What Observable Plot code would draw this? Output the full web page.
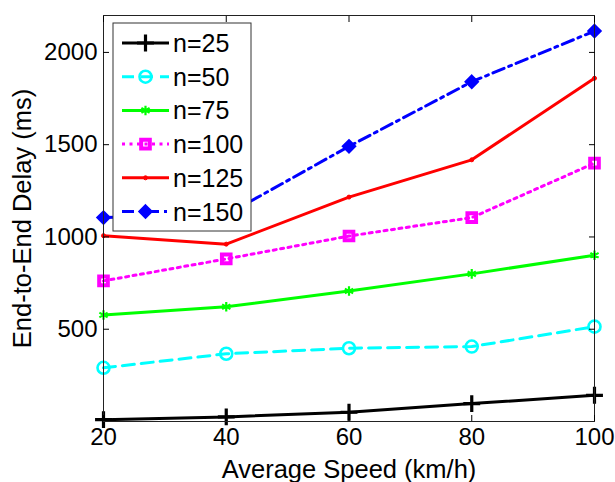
<!DOCTYPE html>
<html><head><meta charset="utf-8">
<script src="https://cdn.jsdelivr.net/npm/d3@7"></script>
<script src="https://cdn.jsdelivr.net/npm/@observablehq/plot@0.6"></script>
<style>
body{margin:0;background:#fff}
svg{font-family:Arial,"Liberation Sans",Helvetica,sans-serif}
</style>
</head><body><div id="chart"></div>
<script>
// ---- data ----
const speeds = [20, 40, 60, 80, 100];
const seriesNames = ["n=25", "n=50", "n=75", "n=100", "n=125", "n=150"];
const n25  = [10, 25, 50, 97, 142];
const n50  = [291, 367, 397, 406, 514];
const n75  = [577, 622, 707, 800, 901];
const n100 = [762, 881, 1005, 1105, 1400];
const n125 = [1007, 961, 1216, 1418, 1860];
const n150 = [1105, 1120, 1491, 1841, 2116];
const xTicks = [20, 40, 60, 80, 100];
const yTicks = [500, 1000, 1500, 2000];
const xLabel = "Average Speed (km/h)";
const yLabel = "End-to-End Delay (ms)";

const values = [n25, n50, n75, n100, n125, n150];
const styles = [
  {color: "#000000", dash: null,          symbol: "plus",     r: 5.5, sw: 3.2, fill: "none"},
  {color: "#00ffff", dash: "12,7",        symbol: "circle",   r: 6,   sw: 2.6, fill: "none"},
  {color: "#00ff00", dash: null,          symbol: "asterisk", r: 4.5, sw: 2.2, fill: "none"},
  {color: "#ff00ff", dash: "3,4.5",       symbol: "square2",  r: 5.5, sw: 4,   fill: "none"},
  {color: "#ff0000", dash: null,          symbol: "circle",   r: 2,   sw: 1,   fill: "#ff0000"},
  {color: "#0000ff", dash: "12,5,3,5",    symbol: "diamond2", r: 5,   sw: 3,   fill: "#0000ff"}
];

const rows = [];
seriesNames.forEach((name, i) => speeds.forEach((s, j) => rows.push({series: name, idx: i, speed: s, delay: values[i][j]})));

const marks = [];
styles.forEach((st, i) => {
  const d = rows.filter(r => r.idx === i);
  marks.push(Plot.line(d, {x: "speed", y: "delay", stroke: st.color, strokeWidth: 3, strokeDasharray: st.dash, strokeLinejoin: "miter"}));
  marks.push(Plot.dot(d, {x: "speed", y: "delay", symbol: () => st.symbol, r: st.r, stroke: st.color, strokeWidth: st.sw, fill: st.fill}));
});

const fmt = d3.format("d");
const chart = Plot.plot({
  width: 615, height: 482,
  marginLeft: 103, marginRight: 21, marginTop: 15, marginBottom: 61,
  style: {fontSize: "24px", fontFamily: "Arial, 'Liberation Sans', sans-serif", color: "#000", background: "#fff", overflow: "visible"},
  x: {domain: [20, 100]},
  y: {domain: [0, 2200]},
  symbol: {type: "identity"},
  marks: [
    ...marks,
    Plot.frame({stroke: "#222", strokeWidth: 1}),
    Plot.axisX(xTicks, {anchor: "bottom", tickSize: -6, tickFormat: () => "", label: null}),
    Plot.axisX(xTicks, {anchor: "top", tickSize: -6, tickFormat: () => "", label: null}),
    Plot.axisY(yTicks, {anchor: "left", tickSize: -6, tickFormat: () => "", label: null}),
    Plot.axisY(yTicks, {anchor: "right", tickSize: -6, tickFormat: () => "", label: null}),
    Plot.axisX(xTicks, {anchor: "bottom", tickSize: 0, tickPadding: 6, fontSize: 24, tickFormat: fmt, label: null}),
    Plot.axisY(yTicks, {anchor: "left", tickSize: 0, tickPadding: 6, fontSize: 24, tickFormat: fmt, label: null}),
    Plot.axisX([], {anchor: "bottom", tickSize: 0, fontSize: 25.5, label: xLabel, labelAnchor: "center", labelArrow: "none", labelOffset: 56}),
    Plot.axisY([], {anchor: "left", tickSize: 0, fontSize: 25.5, label: yLabel, labelAnchor: "center", labelArrow: "none", labelOffset: 91})
  ]
});
document.getElementById("chart").appendChild(chart);

// ---- legend (MATLAB-style box, upper left inside the axes) ----
const svg = d3.select(chart);
const lg = svg.append("g").attr("transform", "translate(113,23)").attr("text-anchor", "start");
lg.append("rect").attr("width", 138).attr("height", 208).attr("fill", "#fff").attr("stroke", "#333").attr("stroke-width", 1);
const symMap = {plus: d3.symbolPlus, circle: d3.symbolCircle, asterisk: d3.symbolAsterisk, square2: d3.symbolSquare2, diamond2: d3.symbolDiamond2};
seriesNames.forEach((name, i) => {
  const st = styles[i];
  const cy = 20 + i * 33.7;
  const g = lg.append("g").attr("transform", `translate(0,${cy})`);
  g.append("line").attr("x1", 9).attr("x2", 56).attr("y1", 0).attr("y2", 0)
    .attr("stroke", st.color).attr("stroke-width", 3).attr("stroke-dasharray", st.dash);
  g.append("path").attr("transform", "translate(32.5,0)")
    .attr("d", d3.symbol(symMap[st.symbol], Math.PI * st.r * st.r)())
    .attr("stroke", st.color).attr("stroke-width", st.sw).attr("fill", st.fill);
  g.append("text").attr("x", 60).attr("y", 0).attr("dy", "0.36em").attr("font-size", 25).attr("text-anchor", "start").attr("fill", "#000").text(name);
});
</script></body></html>
